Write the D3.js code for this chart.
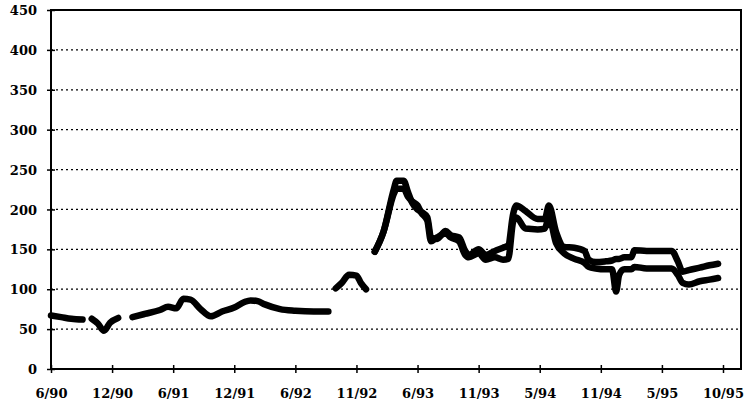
<!DOCTYPE html>
<html>
<head>
<meta charset="utf-8">
<script src="https://cdn.jsdelivr.net/npm/d3@7"></script>
<style>
  body { margin: 0; background: #fff; }
  text { font-family: "DejaVu Serif", serif; font-weight: bold; font-size: 13px; fill: #000; }
</style>
</head>
<body>
<svg width="750" height="411"></svg>
<script>
// axis labels, x ticks sit at equal spacing although months between them differ
const tickLabels = ["6/90", "12/90", "6/91", "12/91", "6/92", "11/92", "6/93", "11/93", "5/94", "11/94", "5/95", "10/95"];
const tickMonths = [0, 6, 12, 18, 24, 29, 36, 41, 47, 53, 59, 64];
const yTicks = [0, 50, 100, 150, 200, 250, 300, 350, 400, 450];

// months since 6/90; both series are the same up to 11/92 (null = gap)
const earlyMonths = [0, 1, 2, 3.1, 3.6,
  4.0, 4.6, 5.2, 5.8, 6.6, 7.3,
  8.0, 9.2, 10.7, 11.5, 12.3, 13.0, 13.7, 14.7, 15.7, 16.8, 18, 19, 19.6, 20.3, 21.0, 22.5, 24, 25.5, 26.7, 27.0,
  27.3, 27.8, 28.4, 29.0, 29.5, 30.1];
const earlyValues = [67, 65, 63, 62, null,
  63, 57, 48, 58, 64, null,
  65, 69, 74, 78, 76, 88, 87, 75, 66, 72, 77, 84, 86, 85, 81, 75, 73, 72, 72, null,
  101, 108, 118, 117, 108, 100];

const lateMonths = [31.1, 32.1, 33.3, 33.6, 34.4, 34.9, 35.4, 36.0, 36.3, 36.8,
  37.1, 37.6, 38.3, 38.7, 39.4, 39.9, 40.2, 41.0, 41.7, 42.6,
  43.4, 43.9, 44.4, 44.7, 45.6, 46.8, 47.5, 47.9, 48.6, 49.4,
  50.4, 51.4, 51.8, 52.5, 53.5, 54.1, 54.5, 54.8, 55.3, 56.0,
  56.3, 57.5, 59.8, 60.3, 60.7, 61.2, 62.1, 62.9, 63.6];
const lateA = [147, 172, 226, 236, 236, 222, 208, 200, 197, 190,
  165, 163, 173, 168, 165, 148, 143, 150, 143, 148,
  152, 155, 195, 205, 198, 188, 188, 205, 172, 153,
  152, 148, 137, 134, 135, 136, 138, 138, 140, 140,
  149, 148, 148, 135, 122, 124, 127, 130, 132];
const lateB = [147, 172, 220, 226, 226, 216, 210, 205, 196, 186,
  160, 165, 170, 165, 160, 143, 140, 145, 137, 140,
  137, 138, 185, 190, 176, 175, 176, 190, 158, 145,
  138, 133, 128, 126, 125, 125, 97, 118, 125, 125,
  128, 126, 126, 118, 108, 106, 110, 112, 114];

let svg = d3.select("svg"),
    width = +svg.attr("width"),
    height = +svg.attr("height");

let margin = {top: 10, right: 9, bottom: 42, left: 51};
let plotLeft = margin.left, plotRight = width - margin.right,
    plotTop = margin.top, plotBottom = height - margin.bottom;

// last tick is inset from the right frame
let xTick = d3.scalePoint().domain(tickLabels).range([plotLeft, plotRight - 18]);
let x = d3.scaleLinear()
    .domain(tickMonths)
    .range(tickLabels.map(l => xTick(l)));
let y = d3.scaleLinear().domain([0, 450]).range([plotBottom, plotTop]);

// dotted grid
svg.append("g")
    .selectAll("line")
    .data(yTicks.filter(v => v > 0 && v < 450))
    .enter().append("line")
    .attr("x1", plotLeft).attr("x2", plotRight)
    .attr("y1", d => y(d)).attr("y2", d => y(d))
    .attr("stroke", "#000")
    .attr("stroke-width", 1.2)
    .attr("stroke-dasharray", "2,3");

// frame
svg.append("rect")
    .attr("x", plotLeft).attr("y", plotTop)
    .attr("width", plotRight - plotLeft).attr("height", plotBottom - plotTop)
    .attr("fill", "none")
    .attr("stroke", "#000")
    .attr("stroke-width", 2);

// y axis
let yAxis = svg.append("g")
    .attr("transform", "translate(" + plotLeft + ",0)")
    .call(d3.axisLeft(y).tickValues(yTicks).tickSize(0).tickPadding(14));
yAxis.select(".domain").remove();
yAxis.selectAll(".tick").append("line")
    .attr("x1", -4).attr("x2", 4)
    .attr("stroke", "#000").attr("stroke-width", 1.5);
yAxis.selectAll("text").attr("dy", "0.35em");

// x axis
let xAxis = svg.append("g")
    .attr("transform", "translate(0," + plotBottom + ")")
    .call(d3.axisBottom(xTick).tickSize(0).tickPadding(20));
xAxis.select(".domain").remove();
xAxis.selectAll(".tick").append("line")
    .attr("y1", -4).attr("y2", 4)
    .attr("stroke", "#000").attr("stroke-width", 1.5);

// lines
let line = d3.line()
    .defined(d => d[1] != null)
    .x(d => x(d[0]))
    .y(d => y(d[1]))
    .curve(d3.curveMonotoneX);

let series = [
  earlyMonths.map((m, i) => [m, earlyValues[i]]),
  lateMonths.map((m, i) => [m, lateA[i]]),
  lateMonths.map((m, i) => [m, lateB[i]])
];

svg.append("g")
    .selectAll("path")
    .data(series)
    .enter().append("path")
    .attr("d", line)
    .attr("fill", "none")
    .attr("stroke", "#000")
    .attr("stroke-width", 6.5)
    .attr("stroke-linecap", "round")
    .attr("stroke-linejoin", "round");
</script>
</body>
</html>
